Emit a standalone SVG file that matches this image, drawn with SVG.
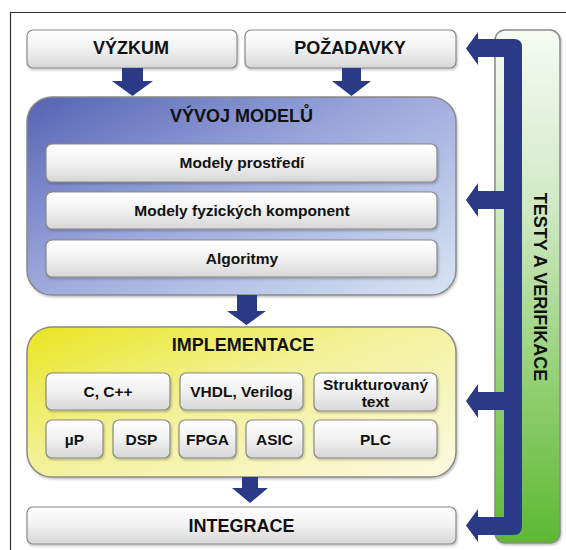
<svg xmlns="http://www.w3.org/2000/svg" width="566" height="550" viewBox="0 0 566 550">
<defs>
<linearGradient id="gBox" x1="0" y1="0" x2="0" y2="1">
<stop offset="0" stop-color="#ffffff"/><stop offset="0.5" stop-color="#f1f1f1"/><stop offset="1" stop-color="#d6d6d6"/>
</linearGradient>
<linearGradient id="gBlue" x1="0" y1="0" x2="1" y2="0.9">
<stop offset="0" stop-color="#5463b3"/><stop offset="0.45" stop-color="#98a4da"/><stop offset="1" stop-color="#d3e0f2"/>
</linearGradient>
<linearGradient id="gYellow" x1="0" y1="0" x2="1" y2="0.9">
<stop offset="0" stop-color="#e9e51f"/><stop offset="0.45" stop-color="#f3f195"/><stop offset="1" stop-color="#faf9dc"/>
</linearGradient>
<linearGradient id="gGreen" x1="0" y1="0" x2="0" y2="1">
<stop offset="0" stop-color="#f6fbf4"/><stop offset="0.35" stop-color="#cfe9c3"/><stop offset="0.7" stop-color="#90cf70"/><stop offset="1" stop-color="#5db833"/>
</linearGradient>
<filter id="sh" x="-5%" y="-5%" width="110%" height="120%">
<feDropShadow dx="1" dy="1.5" stdDeviation="1" flood-color="#000" flood-opacity="0.25"/>
</filter>
</defs>
<style>
.box{fill:url(#gBox);stroke:#8a8a8a;stroke-width:1.2;filter:url(#sh)}
.big{stroke:#8a8a8a;stroke-width:1.5;filter:url(#sh)}
.t{font-family:"Liberation Sans",Arial,sans-serif;font-weight:bold;fill:#111;text-anchor:middle}
.t18{font-size:18px}
.t15{font-size:15.5px}
.arr{fill:#2a3a86}
</style>
<rect x="0" y="0" width="566" height="550" fill="#ffffff"/>
<path d="M10.5 550 V12.5 H566" fill="none" stroke="#333" stroke-width="1.2"/>

<g id="testy">
<rect class="big" x="495" y="30" width="65" height="513" rx="10" fill="url(#gGreen)"/>
<text class="t t18" transform="translate(534 287) rotate(90)" x="0" y="0">TESTY A VERIFIKACE</text>
</g>

<g id="vyzkum">
<rect class="box" x="27" y="30" width="210" height="38" rx="6"/>
<text class="t t18" x="131" y="54">VÝZKUM</text>
</g>
<g id="pozadavky">
<rect class="box" x="245" y="30" width="211" height="38" rx="6"/>
<text class="t t18" x="350" y="54">POŽADAVKY</text>
</g>

<g id="vyvoj">
<rect class="big" x="27" y="97" width="429" height="198" rx="25" fill="url(#gBlue)"/>
<text class="t t18" x="241.5" y="122">VÝVOJ MODELŮ</text>
</g>
<g id="prostredi">
<rect class="box" x="46" y="144" width="391" height="38" rx="6"/>
<text class="t t15" x="242" y="168">Modely prostředí</text>
</g>
<g id="fyzicke">
<rect class="box" x="46" y="192" width="391" height="37" rx="6"/>
<text class="t t15" x="242" y="216">Modely fyzických komponent</text>
</g>
<g id="algoritmy">
<rect class="box" x="46" y="240" width="391" height="37" rx="6"/>
<text class="t t15" x="242" y="264">Algoritmy</text>
</g>

<g id="implementace">
<rect class="big" x="27" y="327" width="429" height="150" rx="25" fill="url(#gYellow)"/>
<text class="t t18" x="243" y="351">IMPLEMENTACE</text>
</g>
<g id="c">
<rect class="box" x="46" y="373" width="124" height="37" rx="6"/>
<text class="t t15" x="108" y="397">C, C++</text>
</g>
<g id="vhdl">
<rect class="box" x="180" y="373" width="123" height="37" rx="6"/>
<text class="t t15" x="241.5" y="397">VHDL, Verilog</text>
</g>
<g id="strukt">
<rect class="box" x="314" y="373" width="123" height="38" rx="6"/>
<text class="t t15" x="375.5" y="390">Strukturovaný</text>
<text class="t t15" x="375.5" y="407">text</text>
</g>
<g id="up">
<rect class="box" x="46" y="420" width="57" height="38" rx="6"/>
<text class="t t15" x="74.5" y="445">µP</text>
</g>
<g id="dsp">
<rect class="box" x="113" y="420" width="57" height="38" rx="6"/>
<text class="t t15" x="141.5" y="445">DSP</text>
</g>
<g id="fpga">
<rect class="box" x="179" y="420" width="57" height="38" rx="6"/>
<text class="t t15" x="207.5" y="445">FPGA</text>
</g>
<g id="asic">
<rect class="box" x="246" y="420" width="57" height="38" rx="6"/>
<text class="t t15" x="274.5" y="445">ASIC</text>
</g>
<g id="plc">
<rect class="box" x="314" y="420" width="123" height="38" rx="6"/>
<text class="t t15" x="375.5" y="445">PLC</text>
</g>

<g id="integrace">
<rect class="box" x="27" y="507" width="429" height="37" rx="6"/>
<text class="t t18" x="241.5" y="532">INTEGRACE</text>
</g>

<g id="connectors">
<path class="arr" d="M122 68 H143 V81 H153 L132.5 96 L112 81 H122 Z"/>
<path class="arr" d="M342 68 H361 V81 H371 L351.5 96 L332 81 H342 Z"/>
<path class="arr" d="M237 295 H257 V311 H266 L246.5 325 L227 311 H237 Z"/>
<path class="arr" d="M242 477 H258 V488 H268 L250 503 L232 488 H242 Z"/>
<path class="arr" d="M466 48.5 L478 32 V39 H514 Q522 39 522 47 V526 Q522 535 513 535 H478 V542 L466 525.5 L478 509 V517 H504 V410 H478 V418 L466 401 L478 384 V392 H504 V209 H478 V217 L466 200 L478 183 V191 H504 V57 H478 V65 Z"/>
</g>
</svg>
